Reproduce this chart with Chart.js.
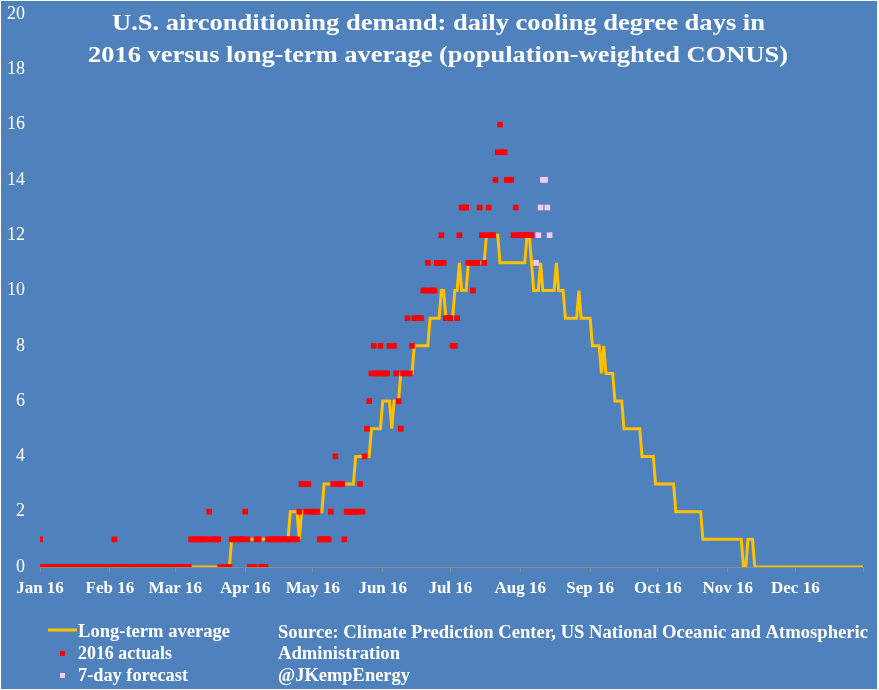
<!DOCTYPE html>
<html>
<head>
<meta charset="utf-8">
<title>U.S. airconditioning demand</title>
<script src="https://cdn.jsdelivr.net/npm/chart.js@4.4.1/dist/chart.umd.min.js"></script>
<style>
  html, body { margin: 0; padding: 0; background: #ffffff; }
  #wrap { width: 879px; height: 690px; }
</style>
</head>
<body>
<div id="wrap"><canvas id="cddChart" width="879" height="690"></canvas></div>
<script>
// Meses (2016 es bisiesto)
const monthLabels = ['Jan 16', 'Feb 16', 'Mar 16', 'Apr 16', 'May 16', 'Jun 16',
                     'Jul 16', 'Aug 16', 'Sep 16', 'Oct 16', 'Nov 16', 'Dec 16'];
const monthLengths = [31, 29, 31, 30, 31, 30, 31, 31, 30, 31, 30, 31];

// Media de largo plazo, un valor por día
const avgJan = [0,0,0,0,0,0,0,0,0,0,0,0,0,0,0,0,0,0,0,0,0,0,0,0,0,0,0,0,0,0,0];
const avgFeb = [0,0,0,0,0,0,0,0,0,0,0,0,0,0,0,0,0,0,0,0,0,0,0,0,0,0,0,0,0];
const avgMar = [0,0,0,0,0,0,0,0,0,0,0,0,0,0,0,0,0,0,0,0,0,0,0,0,0,1,1,1,1,1,1];
const avgApr = [1,1,1,1,1,1,1,1,1,1,1,1,1,1,1,1,1,1,1,1,2,2,2,2,1,2,2,2,2,2];
const avgMay = [2,2,2,2,2,3,3,3,3,3,3,3,3,3,3,3,3,3,3,4,4,4,4,4,4,4,5,5,5,5,5];
const avgJun = [6,6,6,6,5,6,6,6,7,7,7,7,7,7,8,8,8,8,8,8,8,9,9,9,9,9,10,10,9,9];
const avgJul = [9,9,10,10,11,10,10,10,11,11,11,11,11,11,11,11,12,12,12,12,12,12,11,11,11,11,11,11,11,11,11];
const avgAug = [11,11,11,12,12,11,10,10,10,11,10,10,10,10,10,10,11,10,10,10,9,9,9,9,9,9,10,9,9,9,9];
const avgSep = [9,8,8,8,8,7,8,7,7,7,7,6,6,6,6,5,5,5,5,5,5,5,5,4,4,4,4,4,4,3];
const avgOct = [3,3,3,3,3,3,3,3,2,2,2,2,2,2,2,2,2,2,2,2,1,1,1,1,1,1,1,1,1,1,1];
const avgNov = [1,1,1,1,1,1,1,0,0,1,1,1,0,0,0,0,0,0,0,0,0,0,0,0,0,0,0,0,0,0];
const avgDec = [0,0,0,0,0,0,0,0,0,0,0,0,0,0,0,0,0,0,0,0,0,0,0,0,0,0,0,0,0,0,0];

// Valores reales de 2016
const actJan = [1,0,0,0,0,0,0,0,0,0,0,0,0,0,0,0,0,0,0,0,0,0,0,0,0,0,0,0,0,0,0];
const actFeb = [0,0,1,0,0,0,0,0,0,0,0,0,0,0,0,0,0,0,0,0,0,0,0,0,0,0,0,0,0];
const actMar = [0,0,0,0,0,0,0,1,1,1,1,1,1,1,1,2,1,1,1,1,0,0,0,0,0,1,1,1,1,1,1];
const actApr = [2,1,0,0,0,1,1,0,0,0,1,1,1,1,1,1,1,1,1,1,1,1,1,1,2,3,3,2,3,2];
const actMay = [2,2,2,1,1,1,1,1,2,3,4,3,3,3,1,2,2,2,2,2,2,3,2,4,5,6,7,8,7,7,8];
const actJun = [7,7,7,8,8,8,7,6,5,7,7,9,7,8,9,9,9,9,10,10,11,10,10,10,11,11,12,11,9,9];
const actJul = [9,8,8,9,12,13,13,13,11,11,10,11,11,13,12,11,12,13,12,12,14,15,16,15,15,14,14,14,12,13,12];
const actAug = [12,12,12,12,12,12];

// Previsión a 7 días (agosto)
const forecastAug = [null,null,null,null,null,null,null,11,12,13,14,14,13,12];

const fontFamily = '"Liberation Serif", "DejaVu Serif", serif';

// Día del año en que empieza cada mes
const monthStarts = [];
monthLengths.reduce((acc, len) => { monthStarts.push(acc); return acc + len; }, 0);
const lastDay = monthStarts[11] + monthLengths[11] - 1;

function toPoints(monthArrays, firstMonth) {
    const pts = [];
    monthArrays.forEach((arr, k) => {
        const start = monthStarts[firstMonth + k];
        arr.forEach((v, i) => {
            if (v !== null && v !== undefined) pts.push({ x: start + i, y: v });
        });
    });
    return pts;
}

const avgPoints = toPoints([avgJan, avgFeb, avgMar, avgApr, avgMay, avgJun,
                            avgJul, avgAug, avgSep, avgOct, avgNov, avgDec], 0);
const actualPoints = toPoints([actJan, actFeb, actMar, actApr, actMay, actJun, actJul, actAug], 0);
const forecastPoints = toPoints([forecastAug], 7);

// Escribe un texto ajustado a un ancho dado
function fitText(ctx, text, x, y, width, font) {
    ctx.save();
    ctx.font = font;
    ctx.textAlign = 'left';
    ctx.textBaseline = 'alphabetic';
    const w = ctx.measureText(text).width;
    ctx.translate(x, y);
    ctx.scale(width / w, 1);
    ctx.fillText(text, 0, 0);
    ctx.restore();
}

const decorPlugin = {
    id: 'decor',
    beforeDraw(chart) {
        const ctx = chart.ctx;
        ctx.save();
        ctx.fillStyle = '#ffffff';
        ctx.fillRect(0, 0, chart.width, chart.height);
        ctx.fillStyle = '#4F81BD';
        ctx.fillRect(1, 1, chart.width - 3, chart.height - 2);
        ctx.restore();
    },
    afterDraw(chart) {
        const ctx = chart.ctx;
        ctx.save();
        ctx.fillStyle = '#ffffff';
        // Título
        fitText(ctx, 'U.S. airconditioning demand: daily cooling degree days in', 112, 30, 653, 'bold 24px ' + fontFamily);
        fitText(ctx, '2016 versus long-term average (population-weighted CONUS)', 88, 62, 700, 'bold 24px ' + fontFamily);

        // Leyenda
        ctx.strokeStyle = '#FFC000';
        ctx.lineWidth = 3;
        ctx.beginPath();
        ctx.moveTo(48, 630);
        ctx.lineTo(77, 630);
        ctx.stroke();
        ctx.fillStyle = '#FF0000';
        ctx.fillRect(60, 651, 5, 5);
        ctx.fillStyle = '#F5C9F2';
        ctx.fillRect(60, 673, 5, 5);

        ctx.fillStyle = '#ffffff';
        fitText(ctx, 'Long-term average', 78, 637, 152, 'bold 18px ' + fontFamily);
        fitText(ctx, '2016 actuals', 78, 659, 94, 'bold 18px ' + fontFamily);
        fitText(ctx, '7-day forecast', 78, 681, 110, 'bold 18px ' + fontFamily);

        // Fuente
        fitText(ctx, 'Source: Climate Prediction Center, US National Oceanic and Atmospheric', 278, 638, 590, 'bold 18px ' + fontFamily);
        fitText(ctx, 'Administration', 278, 659, 122, 'bold 18px ' + fontFamily);
        fitText(ctx, '@JKempEnergy', 278, 681, 132, 'bold 18px ' + fontFamily);
        ctx.restore();
    }
};

const ctx = document.getElementById('cddChart').getContext('2d');
new Chart(ctx, {
    type: 'line',
    data: {
        datasets: [{
            label: '2016 actuals',
            data: actualPoints,
            showLine: false,
            pointStyle: 'rect',
            pointRadius: 4,
            pointBorderWidth: 0,
            pointBackgroundColor: '#FF0000',
            borderColor: '#FF0000'
        }, {
            label: '7-day forecast',
            data: forecastPoints,
            showLine: false,
            pointStyle: 'rect',
            pointRadius: 4,
            pointBorderWidth: 0,
            pointBackgroundColor: '#F5C9F2',
            borderColor: '#F5C9F2'
        }, {
            label: 'Long-term average',
            data: avgPoints,
            borderColor: '#FFC000',
            borderWidth: 3,
            pointRadius: 0,
            tension: 0,
            fill: false
        }]
    },
    options: {
        responsive: false,
        animation: false,
        layout: { autoPadding: false, padding: { top: 0, right: 16, left: 0, bottom: 0 } },
        plugins: {
            legend: { display: false },
            tooltip: { enabled: false },
            title: { display: false }
        },
        scales: {
            x: {
                type: 'linear',
                min: 0,
                max: lastDay,
                afterBuildTicks: function(axis) {
                    axis.ticks = monthStarts.concat([lastDay]).map(v => ({ value: v }));
                },
                afterFit: function(scale) { scale.height = 123; },
                ticks: {
                    autoSkip: false,
                    maxRotation: 0,
                    minRotation: 0,
                    padding: 6,
                    color: '#ffffff',
                    font: { family: fontFamily, size: 17, weight: 'bold' },
                    callback: function(value, index) {
                        return monthLabels[index] || '';
                    }
                },
                grid: {
                    drawOnChartArea: false,
                    drawTicks: true,
                    tickLength: 5,
                    color: '#8C8C8C'
                },
                border: { display: true, color: '#8C8C8C', width: 1 }
            },
            y: {
                min: 0,
                max: 20,
                afterFit: function(scale) {
                    scale.width = 40;
                    scale.paddingTop = 14;
                    scale.paddingBottom = 0;
                },
                ticks: {
                    stepSize: 2,
                    padding: 15,
                    color: '#ffffff',
                    font: { family: fontFamily, size: 18 }
                },
                grid: { display: false, drawTicks: false },
                border: { display: false }
            }
        }
    },
    plugins: [decorPlugin]
});
</script>
</body>
</html>
